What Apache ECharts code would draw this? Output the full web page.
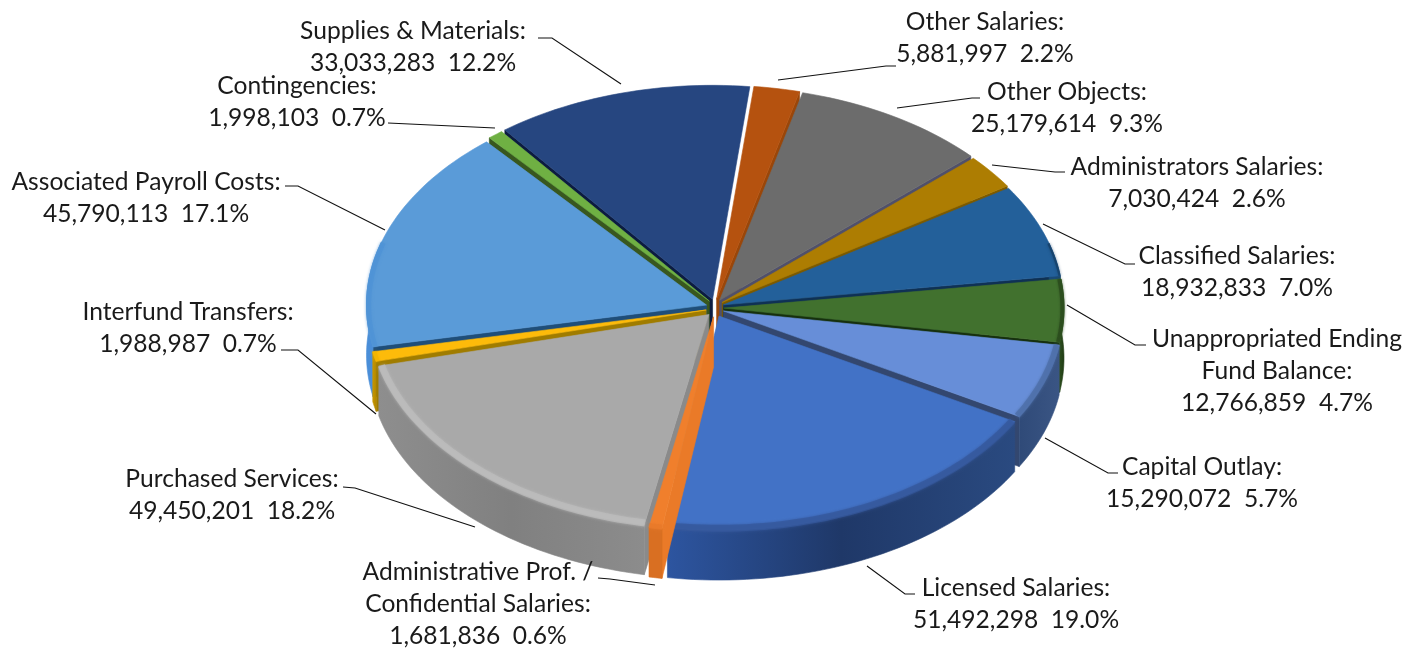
<!DOCTYPE html>
<html><head><meta charset="utf-8">
<style>html,body{margin:0;padding:0;background:#fff}#c{width:1419px;height:652px}</style>
<script src="https://cdn.jsdelivr.net/npm/echarts@6/dist/echarts.min.js"></script>
</head><body><div id="c"></div>
<script>
// ---- data (clockwise from the top) ----
const categories = ['Other Salaries','Other Objects','Administrators Salaries','Classified Salaries','Unappropriated Ending\nFund Balance','Capital Outlay','Licensed Salaries','Administrative Prof. /\nConfidential Salaries','Purchased Services','Interfund Transfers','Associated Payroll Costs','Contingencies','Supplies & Materials'];
const amounts = [5881997,25179614,7030424,18932833,12766859,15290072,51492298,1681836,49450201,1988987,45790113,1998103,33033283];
const percents = ['2.2%','9.3%','2.6%','7.0%','4.7%','5.7%','19.0%','0.6%','18.2%','0.7%','17.1%','0.7%','12.2%'];
// ---- styles ----
const topColors = ['#b5520f','#6c6c6c','#ad7d02','#23609a','#41712e','#678ed8','#4272c6','#f07f2c','#a9a9a9','#fdbb0a','#5a9bd8','#6fb043','#264680'];
const wallColors = [['#8a3e0a','#8a3e0a'],['#555','#555'],['#856000','#856000'],['#1a4a75','#1a4a75'],['#2c4e1e','#1f3a14'],['#2f4a78','#3a5584'],['#2d55a0','#1f3868','#2a4a80'],['#d96f22','#d96f22'],['#8e8e8e','#808080','#8c8c8c'],['#c99700','#b08600'],['#4a8ed8','#4a8ed8'],['#44702a','#44702a'],['#1a3360','#1a3360']];
const cutColors = ['#9a4609','#50506a','#7c5a00','#0f3154','#16300e','#33476f','#2a4b8c','#ea7a28','#8a8a8a','#a07c00','#1f4e79','#38571f','#0c1c40'];
const rimColors = [null,null,null,'#163f66','#2a4a1c','#4d6fa8','#35589c','#e8792a','#bcbcbc','#f2b400','#4f93d6',null,null];
const rimWidths = [0,0,0,2,4,6,7,5,7,4,5,0,0];
// ---- layout ----
const cx=715, cy=308, rx=340, ry=214, depth=50, startDeg=6.3, ex=9, ey=9, warp=0.7;
const labelPos = [[985,20],[1067,90],[1197,165],[1237,254],[1277,337],[1202,465],[1016,586],[478,570],[232,477],[188,310],[146,180],[297,84],[413,29]];
const leaders = [
 [[778,80],[886,66],[896,66]],[[897,108],[972,98],[980,98]],[[992,165],[1055,172],[1065,172]],
 [[1043,224],[1125,264],[1135,264]],[[1067,305],[1135,345],[1146,345]],[[1045,438],[1108,473],[1118,473]],
 [[867,566],[905,594],[915,594]],[[655,585],[610,579],[598,578]],[[475,527],[355,488],[343,487]],
 [[376,414],[298,350],[281,350]],[[385,230],[298,186],[285,186]],[[495,128],[388,123]],[[621,84],[552,38],[538,38]]];

const fmt = n => n.toLocaleString('en-US');
const total = amounts.reduce((a,b)=>a+b,0);
const rad = d => d*Math.PI/180;
const warpDeg = d => { const c=-Math.cos(rad(d)); return d + (c>0 ? warp*c*c*c*c : 0); };
let acc = startDeg;
const spans = amounts.map(v=>{ const s=acc; acc+=v/total*360; return [s,acc]; });
const order = spans.map((s,i)=>i).sort((a,b)=>Math.cos(rad((spans[b][0]+spans[b][1])/2))-Math.cos(rad((spans[a][0]+spans[a][1])/2)));
const depthRank = {}; order.forEach((i,k)=>depthRank[i]=k);

function grad(cols){
  if(cols.length===2&&cols[0]===cols[1]) return cols[0];
  return new echarts.graphic.LinearGradient(0,0,1,0,cols.map((c,i)=>({offset:i/(cols.length-1),color:c})));
}
function renderSlice(params, api){
  const i = params.dataIndex;
  const val = api.value(1);
  const a0 = spans[i][0], a1 = a0 + val/total*360, mid=(a0+a1)/2;
  const ox = cx + ex*Math.sin(rad(mid)), oy = cy - ey*Math.cos(rad(mid));
  const P = (d,dz) => { const t=rad(warpDeg(d)); return [ox+rx*Math.sin(t), oy-ry*Math.cos(t)+dz]; };
  const n = Math.max(6, Math.ceil((a1-a0)/1.5));
  const rim=[], low=[], frontRim=[], frontLow=[], inner=[];
  const w=rimWidths[i]/2;
  for(let k=0;k<=n;k++){
    const d=a0+(a1-a0)*k/n;
    rim.push(P(d,0)); low.push(P(d,depth));
    if(Math.cos(rad(d))<0.3){
      frontRim.push(P(d,0)); frontLow.push(P(d,depth));
      const t=rad(warpDeg(d));
      inner.push([ox+(rx-w*0.8)*Math.sin(t),oy-(ry-w*0.5)*Math.cos(t)]);
    }
  }
  const apex=[ox,oy], apexLow=[ox,oy+depth];
  const base = depthRank[i]*6;
  const kids = [];
  const poly = (pts,fill,z,stroke) => kids.push({type:'polygon',z2:base+z,shape:{points:pts},style:{fill:fill,stroke:stroke||fill,lineWidth:0.6}});
  if(Math.sin(rad(a0))<-0.1) poly([apex,rim[0],low[0],apexLow],cutColors[i],0);
  if(Math.sin(rad(a1))>0.15) poly([apex,rim[n],low[n],apexLow],cutColors[i],1);
  if(frontRim.length>1) poly(frontRim.concat(frontLow.slice().reverse()),grad(wallColors[i]),2);
  poly([apex].concat(rim),topColors[i],3);
  if(rimColors[i] && inner.length>1){
    kids.push({type:'polyline',z2:base+4,shape:{points:inner},style:{fill:null,stroke:rimColors[i],lineWidth:rimWidths[i],opacity:0.75,shadowBlur:3,shadowColor:rimColors[i]}});
  }
  return {type:'group',children:kids};
}
function renderNote(params, api){
  const i = params.dataIndex;
  const text = categories[i]+':\n'+fmt(api.value(1))+'  '+percents[i];
  return {type:'group',children:[
    {type:'polyline',z2:1000,shape:{points:leaders[i]},style:{fill:null,stroke:'#111',lineWidth:1.1}},
    {type:'text',z2:1001,style:{x:labelPos[i][0],y:labelPos[i][1]-14.5,text:text,fill:'#1a1a1a',font:'400 24.6px Lato, "Open Sans", sans-serif',align:'center',verticalAlign:'top',lineHeight:32.3}}
  ]};
}
const rows = categories.map((c,i)=>[c,amounts[i]]);
const chart = echarts.init(document.getElementById('c'),null,{renderer:'canvas'});
chart.setOption({
  animation:false, backgroundColor:'#fff',
  series:[
   {type:'custom',coordinateSystem:'none',renderItem:renderSlice,data:rows,silent:true,z:1},
   {type:'custom',coordinateSystem:'none',renderItem:renderNote,data:rows,silent:true,z:2}
  ]
});
</script></body></html>
